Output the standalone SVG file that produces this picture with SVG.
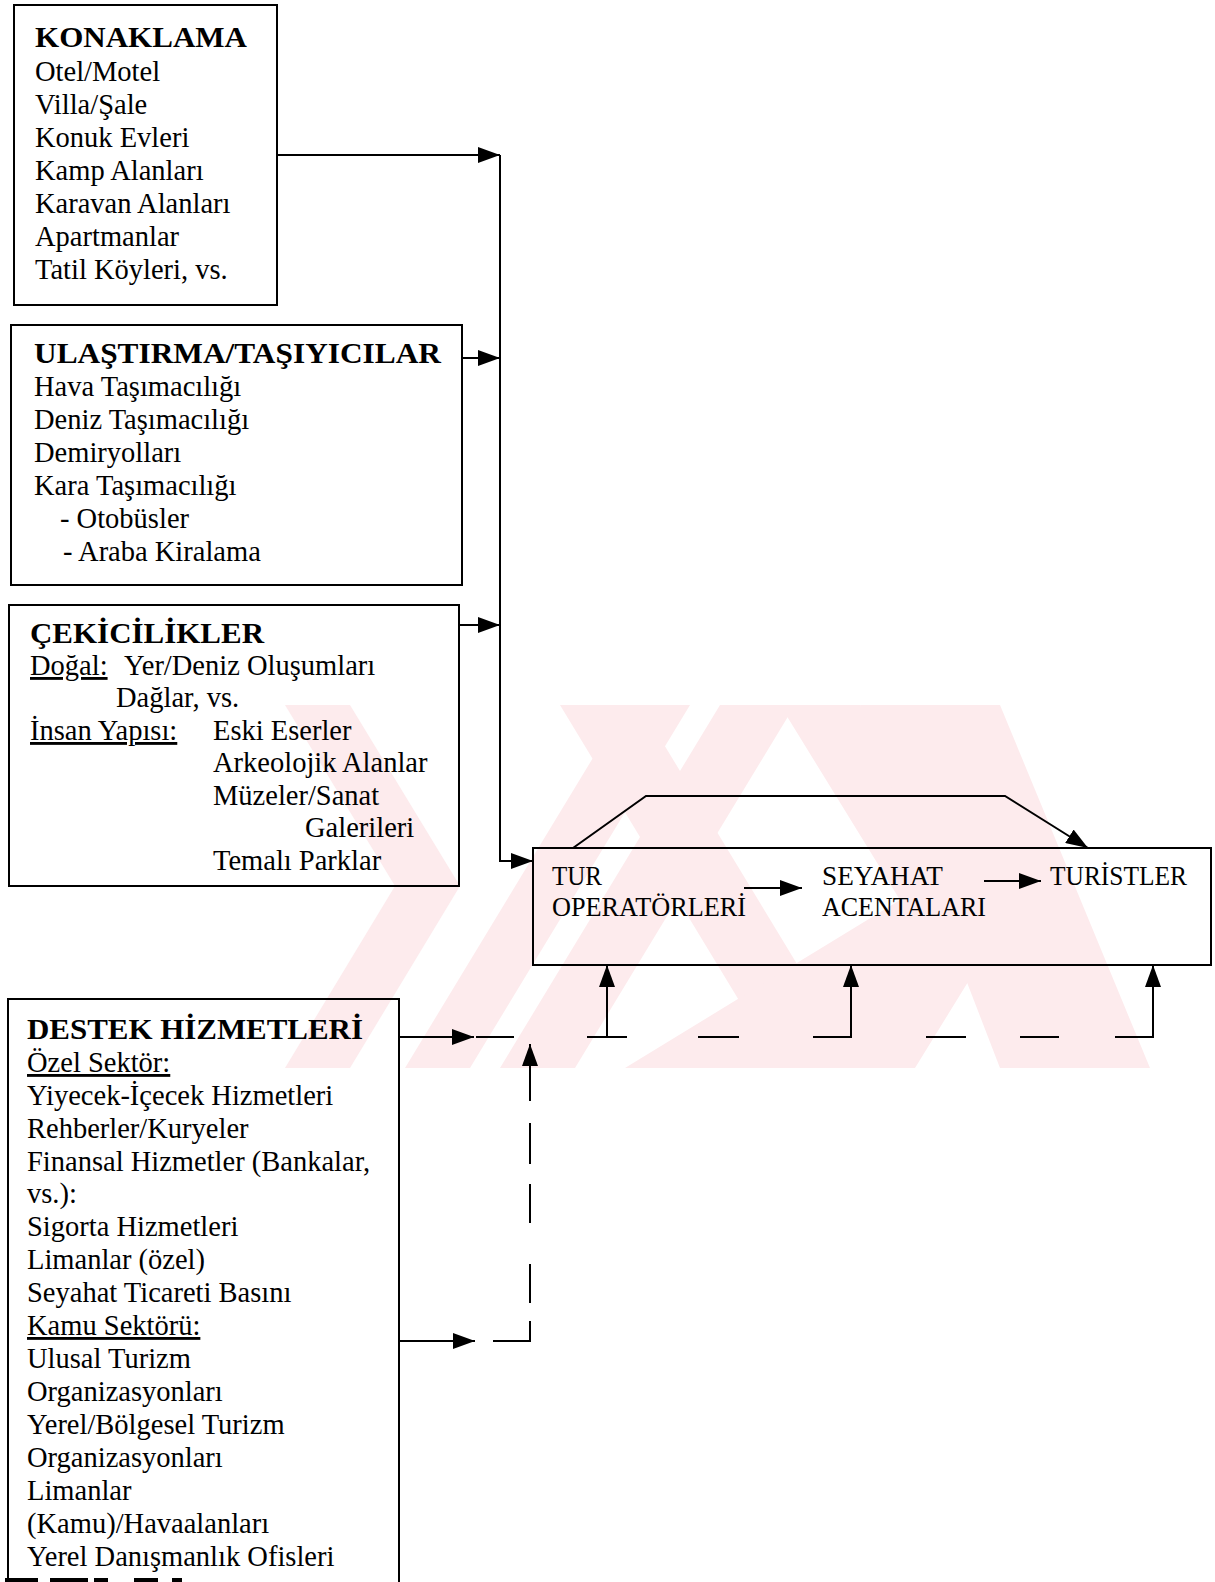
<svg xmlns="http://www.w3.org/2000/svg" width="1215" height="1582" viewBox="0 0 1215 1582">
  <style>
    .t { font-family: "Liberation Serif", "Times New Roman", serif; font-size: 28.5px; fill: #000; }
    .h { font-weight: bold; font-size: 29px; }
    .m { font-size: 28px; }
    .u { text-decoration: underline; }
    .box { fill: none; stroke: #000; stroke-width: 2; }
    .ln { fill: none; stroke: #000; stroke-width: 2; }
    .wm { fill: #fdebed; }
  </style>
  <defs>
    <marker id="ah" markerWidth="22" markerHeight="16" refX="22" refY="8" orient="auto" markerUnits="userSpaceOnUse">
      <path d="M0,0 L22,8 L0,16 z" fill="#000"/>
    </marker>
  </defs>

  <rect width="1215" height="1582" fill="#fff"/>

  <!-- faint background emblem -->
  <g id="emblem" class="wm">
    <polygon points="285,705 350,705 460,886 350,1068 285,1068 395,886"/>
    <polygon points="405,1068 470,1068 690,705 625,705"/>
    <polygon points="500,1068 575,1068 795,705 720,705"/>
    <polygon points="560,705 640,705 860,1068 780,1068"/>
    <polygon points="625,1068 915,1068 1000,930 860,705 780,705 900,900"/>
    <polygon points="860,705 1000,705 1150,1068 1000,1068"/>
  </g>

  <!-- supplier nodes -->
  <g id="konaklama">
    <rect class="box" x="14" y="5" width="263" height="300"/>
    <text class="t h" x="35" y="47" textLength="212" lengthAdjust="spacingAndGlyphs">KONAKLAMA</text>
    <text class="t" x="35" y="81">Otel/Motel</text>
    <text class="t" x="35" y="114">Villa/Şale</text>
    <text class="t" x="35" y="147">Konuk Evleri</text>
    <text class="t" x="35" y="180">Kamp Alanları</text>
    <text class="t" x="35" y="213">Karavan Alanları</text>
    <text class="t" x="35" y="246">Apartmanlar</text>
    <text class="t" x="35" y="279">Tatil Köyleri, vs.</text>
  </g>

  <g id="ulastirma">
    <rect class="box" x="11" y="325" width="451" height="260"/>
    <text class="t h" x="34" y="363" textLength="407" lengthAdjust="spacingAndGlyphs">ULAŞTIRMA/TAŞIYICILAR</text>
    <text class="t" x="34" y="396">Hava Taşımacılığı</text>
    <text class="t" x="34" y="429">Deniz Taşımacılığı</text>
    <text class="t" x="34" y="462">Demiryolları</text>
    <text class="t" x="34" y="495">Kara Taşımacılığı</text>
    <text class="t" x="60" y="528">- Otobüsler</text>
    <text class="t" x="63" y="561">- Araba Kiralama</text>
  </g>

  <g id="cekicilikler">
    <rect class="box" x="9" y="605" width="450" height="281"/>
    <text class="t h" x="30" y="643" textLength="234" lengthAdjust="spacingAndGlyphs">ÇEKİCİLİKLER</text>
    <text class="t u" x="30" y="675">Doğal:</text>
    <text class="t" x="124" y="675">Yer/Deniz Oluşumları</text>
    <text class="t" x="116" y="707">Dağlar, vs.</text>
    <text class="t u" x="30" y="740">İnsan Yapısı:</text>
    <text class="t" x="213" y="740">Eski Eserler</text>
    <text class="t" x="213" y="772">Arkeolojik Alanlar</text>
    <text class="t" x="213" y="805">Müzeler/Sanat</text>
    <text class="t" x="305" y="837">Galerileri</text>
    <text class="t" x="213" y="870">Temalı Parklar</text>
  </g>

  <g id="destek">
    <path class="box" d="M8,1585 V999 H399 V1585"/>
    <text class="t h" x="27" y="1039" textLength="336" lengthAdjust="spacingAndGlyphs">DESTEK HİZMETLERİ</text>
    <text class="t u" x="27" y="1072">Özel Sektör:</text>
    <text class="t" x="27" y="1105">Yiyecek-İçecek Hizmetleri</text>
    <text class="t" x="27" y="1138">Rehberler/Kuryeler</text>
    <text class="t" x="27" y="1171">Finansal Hizmetler (Bankalar,</text>
    <text class="t" x="27" y="1203">vs.):</text>
    <text class="t" x="27" y="1236">Sigorta Hizmetleri</text>
    <text class="t" x="27" y="1269">Limanlar (özel)</text>
    <text class="t" x="27" y="1302">Seyahat Ticareti Basını</text>
    <text class="t u" x="27" y="1335">Kamu Sektörü:</text>
    <text class="t" x="27" y="1368">Ulusal Turizm</text>
    <text class="t" x="27" y="1401">Organizasyonları</text>
    <text class="t" x="27" y="1434">Yerel/Bölgesel Turizm</text>
    <text class="t" x="27" y="1467">Organizasyonları</text>
    <text class="t" x="27" y="1500">Limanlar</text>
    <text class="t" x="27" y="1533">(Kamu)/Havaalanları</text>
    <text class="t" x="27" y="1566">Yerel Danışmanlık Ofisleri</text>
  </g>

  <!-- distribution channel -->
  <g id="dagitim">
    <rect class="box" x="533" y="848" width="678" height="117"/>
    <text class="t m" x="552" y="885" textLength="50" lengthAdjust="spacingAndGlyphs">TUR</text>
    <text class="t m" x="552" y="916" textLength="194" lengthAdjust="spacingAndGlyphs">OPERATÖRLERİ</text>
    <text class="t m" x="822" y="885" textLength="121" lengthAdjust="spacingAndGlyphs">SEYAHAT</text>
    <text class="t m" x="822" y="916" textLength="164" lengthAdjust="spacingAndGlyphs">ACENTALARI</text>
    <text class="t m" x="1050" y="885" textLength="137" lengthAdjust="spacingAndGlyphs">TURİSTLER</text>
  </g>

  <!-- connectors -->
  <g id="connectors">
    <!-- supplier feed into the channel -->
    <line class="ln" x1="277" y1="155" x2="500" y2="155" marker-end="url(#ah)"/>
    <line class="ln" x1="462" y1="358" x2="500" y2="358" marker-end="url(#ah)"/>
    <line class="ln" x1="459" y1="625" x2="500" y2="625" marker-end="url(#ah)"/>
    <line class="ln" x1="500" y1="155" x2="500" y2="861"/>
    <line class="ln" x1="499" y1="861" x2="533" y2="861" marker-end="url(#ah)"/>

    <!-- flows inside the channel -->
    <line class="ln" x1="744" y1="888" x2="802" y2="888" marker-end="url(#ah)"/>
    <line class="ln" x1="984" y1="881" x2="1041" y2="881" marker-end="url(#ah)"/>
    <polyline class="ln" points="573,848 646,796 1005,796 1088,848" marker-end="url(#ah)"/>

    <!-- support services, dashed links -->
    <line class="ln" x1="399" y1="1037" x2="474" y2="1037" marker-end="url(#ah)"/>
    <line class="ln" x1="476" y1="1037" x2="514" y2="1037"/>
    <line class="ln" x1="587" y1="1037" x2="627" y2="1037"/>
    <line class="ln" x1="698" y1="1037" x2="739" y2="1037"/>
    <line class="ln" x1="813" y1="1037" x2="852" y2="1037"/>
    <line class="ln" x1="926" y1="1037" x2="966" y2="1037"/>
    <line class="ln" x1="1020" y1="1037" x2="1059" y2="1037"/>
    <line class="ln" x1="1115" y1="1037" x2="1154" y2="1037"/>
    <line class="ln" x1="607" y1="1037" x2="607" y2="965" marker-end="url(#ah)"/>
    <line class="ln" x1="851" y1="1038" x2="851" y2="965" marker-end="url(#ah)"/>
    <line class="ln" x1="1153" y1="1038" x2="1153" y2="965" marker-end="url(#ah)"/>

    <line class="ln" x1="399" y1="1341" x2="475" y2="1341" marker-end="url(#ah)"/>
    <polyline class="ln" points="493,1341 530,1341 530,1321"/>
    <line class="ln" x1="530" y1="1303" x2="530" y2="1264"/>
    <line class="ln" x1="530" y1="1223" x2="530" y2="1184"/>
    <line class="ln" x1="530" y1="1164" x2="530" y2="1123"/>
    <line class="ln" x1="530" y1="1101" x2="530" y2="1044" marker-end="url(#ah)"/>
  </g>

  <!-- rule fragments at the lower edge -->
  <g id="alt-kenar" fill="#000">
    <rect x="5" y="1578" width="33" height="4"/>
    <rect x="50" y="1578" width="38" height="4"/>
    <rect x="94" y="1578" width="14" height="4"/>
    <rect x="134" y="1578" width="24" height="4"/>
    <rect x="172" y="1578" width="10" height="4"/>
  </g>
</svg>
